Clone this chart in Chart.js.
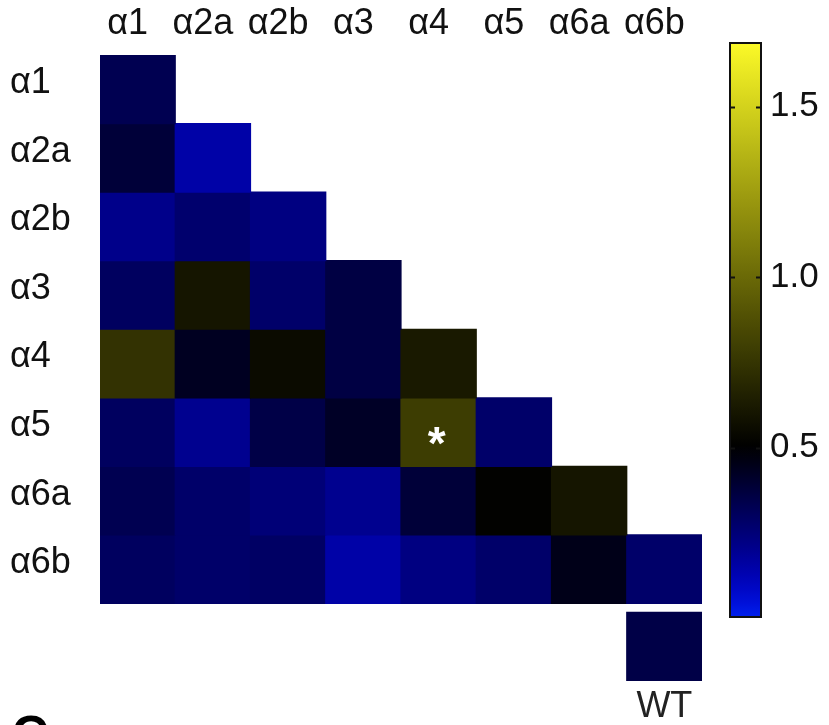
<!DOCTYPE html>
<html><head><meta charset="utf-8">
<script src="https://cdn.jsdelivr.net/npm/chart.js@4"></script>
<style>
html,body{margin:0;padding:0;background:#fff;overflow:hidden;width:829px;height:725px;}
#wrap{position:relative;width:829px;height:725px;overflow:hidden;}
#heat{position:absolute;left:0;top:0;}
#cbar{position:absolute;left:700px;top:0;}
#panel{position:absolute;left:12px;top:709px;font:bold 50px "Liberation Sans",Arial,sans-serif;line-height:50px;color:#000;}
</style></head><body>
<div id="wrap">
<canvas id="heat" width="829" height="725"></canvas>
<canvas id="cbar" width="129" height="725"></canvas>
<div id="panel">C</div>
</div>
<script>
// ---- data ----
const columns = ['α1','α2a','α2b','α3','α4','α5','α6a','α6b'];
const rowLabels = ['α1','α2a','α2b','α3','α4','α5','α6a','α6b'];
const rowA1  = [0.33];
const rowA2a = [0.38, 0.15];
const rowA2b = [0.21, 0.27, 0.23];
const rowA3  = [0.30, 0.60, 0.28, 0.36];
const rowA4  = [0.74, 0.43, 0.55, 0.36, 0.62];
const rowA5  = [0.30, 0.20, 0.35, 0.42, 0.79, 0.28];
const rowA6a = [0.33, 0.28, 0.25, 0.20, 0.38, 0.51, 0.60];
const rowA6b = [0.30, 0.28, 0.29, 0.15, 0.23, 0.28, 0.45, 0.28];
const wtLabel = 'WT';
const wtValue = 0.35;
const colorMin = 0, colorMid = 0.5, colorMax = 1.69;
const colorbarTicks = [0.5, 1.0, 1.5];
const significant = [{row: 'α5', col: 'α4'}];

const rows = [rowA1, rowA2a, rowA2b, rowA3, rowA4, rowA5, rowA6a, rowA6b];

function cmap(v){
  if (v <= colorMid){
    const t = Math.min(1, (colorMid - v) / (colorMid - colorMin));
    return `rgb(0,${Math.round(34*Math.pow(t,8))},${Math.round(238*t)})`;
  }
  const u = Math.min(1, (v - colorMid) / (colorMax - colorMid));
  return `rgb(${Math.round(252*u)},${Math.round(250*u)},${Math.round(40*u*u)})`;
}

const FONT = '"Liberation Sans", Arial, sans-serif';
const WT_GAP = 0.13;
const yMax = rows.length + 1.5 + WT_GAP;

const datasets = rows.map((vals, i) => ({
  label: rowLabels[i],
  xAxisID: 'x', yAxisID: 'y',
  data: columns.map((c, j) => j < vals.length ? [i + 0.5, i + 1.5] : null),
  backgroundColor: columns.map((c, j) => j < vals.length ? cmap(vals[j]) : 'rgba(0,0,0,0)')
}));
datasets.push({
  label: wtLabel,
  xAxisID: 'x', yAxisID: 'y',
  data: columns.map((c, j) => j === columns.length - 1 ? [rows.length + 0.5 + WT_GAP, rows.length + 1.5 + WT_GAP] : null),
  backgroundColor: columns.map((c, j) => j === columns.length - 1 ? cmap(wtValue) : 'rgba(0,0,0,0)')
});

const starPlugin = {
  id: 'stars',
  afterDatasetsDraw(chart){
    const {ctx, scales: {x, y}} = chart;
    const fs = 46;
    ctx.save();
    ctx.fillStyle = '#fff';
    ctx.font = `bold ${fs}px ${FONT}`;
    ctx.textAlign = 'center';
    ctx.textBaseline = 'alphabetic';
    significant.forEach(s => {
      const cx = x.getPixelForValue(columns.indexOf(s.col));
      const cy = y.getPixelForValue(rowLabels.indexOf(s.row) + 1);
      ctx.fillText('*', cx - 2, cy + fs * 0.58);
    });
    ctx.restore();
  }
};

new Chart(document.getElementById('heat'), {
  type: 'bar',
  data: {labels: columns, datasets},
  options: {
    responsive: false, animation: false, events: [], devicePixelRatio: 1,
    layout: {padding: {left: 10, right: 127, top: 0, bottom: 0}},
    datasets: {bar: {barPercentage: 1, categoryPercentage: 1, grouped: false, borderWidth: 0, inflateAmount: 0.6, borderSkipped: false}},
    plugins: {legend: {display: false}, tooltip: {enabled: false}},
    scales: {
      x: {type: 'category', position: 'top', offset: true,
          grid: {display: false}, border: {display: false},
          ticks: {font: {family: FONT, size: 36}, color: '#111', padding: 1, labelOffset: -10, maxRotation: 0, autoSkip: false},
          afterFit(s){ s.height = 55; }},
      x2: {type: 'category', position: 'bottom', offset: true,
          labels: columns.map((c, j) => j === columns.length - 1 ? wtLabel : ''),
          grid: {display: false}, border: {display: false},
          ticks: {font: {family: FONT, size: 36}, color: '#222', padding: -4, maxRotation: 0, autoSkip: false},
          afterFit(s){ s.height = 44; }},
      y: {type: 'linear', reverse: true, min: 0.5, max: yMax,
          grid: {display: false}, border: {display: false},
          afterBuildTicks(s){ s.ticks = rowLabels.map((l, i) => ({value: i + 1})); },
          ticks: {font: {family: FONT, size: 36}, color: '#111', crossAlign: 'far', labelOffset: -6,
                  callback: (v) => rowLabels[v - 1] ?? ''},
          afterFit(s){ s.width = 90; }}
    }
  },
  plugins: [starPlugin]
});

const cbTickPlugin = {
  id: 'cbticks',
  afterDatasetsDraw(chart){
    const {ctx, chartArea: a, scales: {y}} = chart;
    ctx.save();
    ctx.strokeStyle = '#111';
    ctx.lineWidth = 2;
    colorbarTicks.forEach(v => {
      const py = Math.round(y.getPixelForValue(v)) + 0.5;
      ctx.beginPath();
      ctx.moveTo(a.left + 1, py); ctx.lineTo(a.left + 6, py);
      ctx.moveTo(a.right - 6, py); ctx.lineTo(a.right - 1, py);
      ctx.stroke();
    });
    ctx.restore();
  }
};

new Chart(document.getElementById('cbar'), {
  type: 'bar',
  data: {labels: [''], datasets: [{
    data: [[colorMin, colorMax]],
    backgroundColor(c){
      const ch = c.chart, a = ch.chartArea;
      if (!a) return '#000';
      const g = ch.ctx.createLinearGradient(0, a.bottom, 0, a.top);
      for (let k = 0; k <= 40; k++){
        g.addColorStop(k / 40, cmap(colorMin + (colorMax - colorMin) * k / 40));
      }
      return g;
    },
    borderColor: '#111', borderWidth: 2, borderSkipped: false,
    barPercentage: 1, categoryPercentage: 1, inflateAmount: 0
  }]},
  options: {
    responsive: false, animation: false, events: [], devicePixelRatio: 1,
    layout: {padding: {top: 42, bottom: 107, left: 29, right: 0}},
    plugins: {legend: {display: false}, tooltip: {enabled: false}},
    scales: {
      x: {display: false},
      y: {position: 'right', min: colorMin, max: colorMax,
          grid: {display: false}, border: {display: false},
          afterBuildTicks(s){ s.ticks = colorbarTicks.map(v => ({value: v})); },
          ticks: {font: {family: FONT, size: 35}, color: '#111', padding: 0,
                  callback: (v) => Number(v).toFixed(1)},
          afterFit(s){ s.width = 67; }}
    }
  },
  plugins: [cbTickPlugin]
});
</script>
</body></html>
